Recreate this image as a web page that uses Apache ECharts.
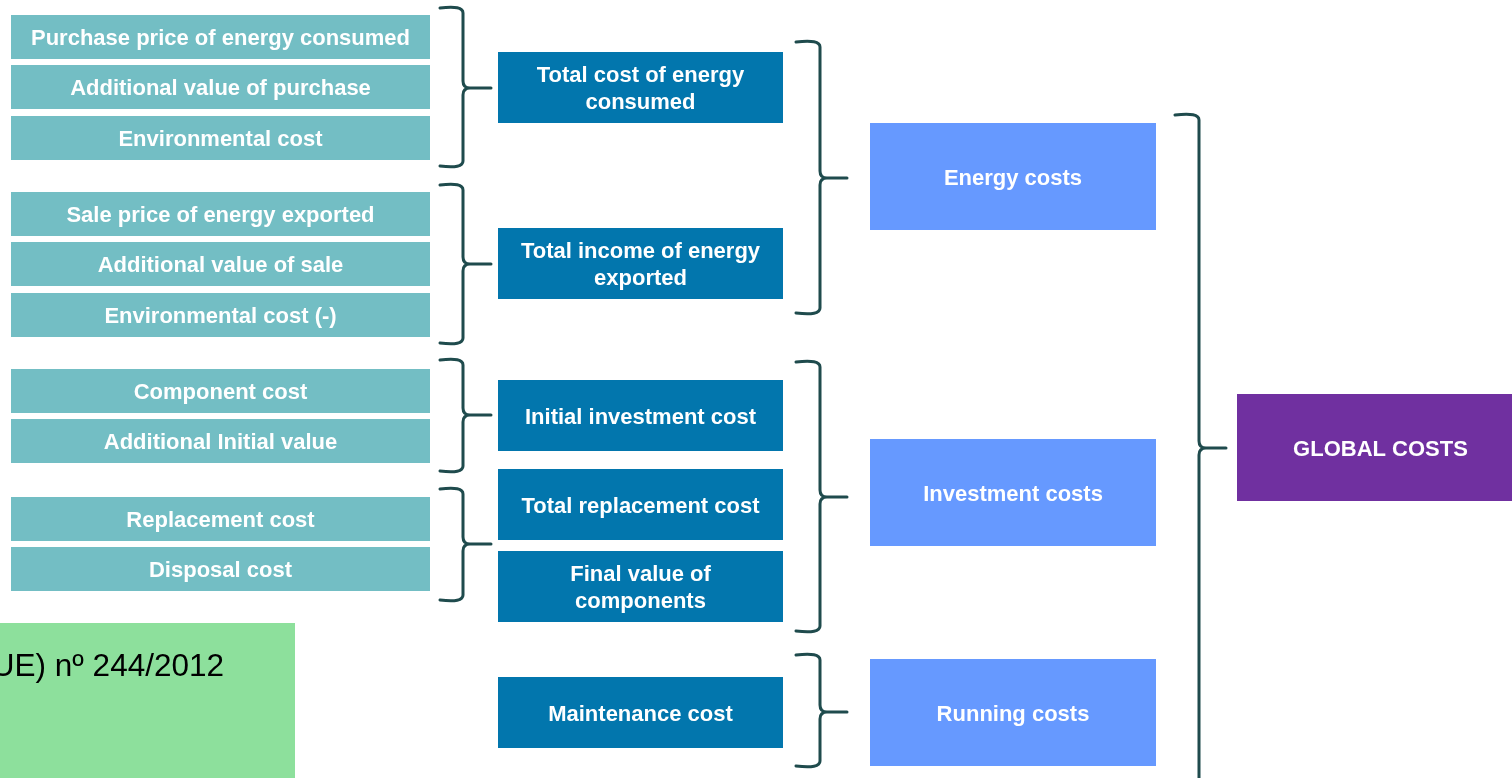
<!DOCTYPE html>
<html>
<head>
<meta charset="utf-8">
<title>Global costs</title>
<script src="https://cdn.jsdelivr.net/npm/echarts@6/dist/echarts.min.js"></script>
<style>
  html, body { margin: 0; padding: 0; background: #fff; }
  #chart { width: 1512px; height: 778px; }
</style>
</head>
<body>
<div id="chart"></div>
<script>
// labels, column by column
const inputLabels = [
    'Purchase price of energy consumed',
    'Additional value of purchase',
    'Environmental cost',
    'Sale price of energy exported',
    'Additional value of sale',
    'Environmental cost (-)',
    'Component cost',
    'Additional Initial value',
    'Replacement cost',
    'Disposal cost'
];
const subtotalLabels = [
    'Total cost of energy\nconsumed',
    'Total income of energy\nexported',
    'Initial investment cost',
    'Total replacement cost',
    'Final value of\ncomponents',
    'Maintenance cost'
];
const categoryLabels = ['Energy costs', 'Investment costs', 'Running costs'];
const totalLabels = ['GLOBAL COSTS'];
const noteLabels = ['(UE) nº 244/2012'];

// layout (pixel units of the hidden axes)
const inputCol = { x0: 11, x1: 430, h: 44, tops: [15, 65, 116, 192, 242, 293, 369, 419, 497, 547] };
const subtotalCol = { x0: 498, x1: 783, h: 71, tops: [52, 228, 380, 469, 551, 677] };
const categoryCol = { x0: 870, x1: 1156, h: 107, tops: [123, 439, 659] };
const totalCol = { x0: 1237, x1: 1524, h: 107, tops: [394] };
const noteBox = { x0: -20, x1: 295, y0: 623, y1: 800, textX: 224, textY: 667 };

// brackets: [top, bottom, tip]
const bracketCols = [
    { arm: 440, vert: 463, tip: 491, spans: [[6, 168, 88], [183, 345, 264], [358, 473, 415], [487, 602, 544]] },
    { arm: 796, vert: 820, tip: 847, spans: [[40, 315, 178], [360, 633, 497], [653, 768, 712]] },
    { arm: 1175, vert: 1199, tip: 1226, spans: [[113, 800, 448]] }
];

const FONT = '"Liberation Sans", Arial, sans-serif';
const TEXT_SHIFT = 2;

function boxData(col) {
    return col.tops.map(t => [col.x0, t, col.x1, t + col.h]);
}

function boxRender(labels, fill, textColor, font) {
    return function (params, api) {
        const p0 = api.coord([api.value(0), api.value(1)]);
        const p1 = api.coord([api.value(2), api.value(3)]);
        return {
            type: 'group',
            children: [
                {
                    type: 'rect',
                    shape: { x: p0[0], y: p0[1], width: p1[0] - p0[0], height: p1[1] - p0[1] },
                    style: { fill: fill }
                },
                {
                    type: 'text',
                    x: (p0[0] + p1[0]) / 2,
                    y: (p0[1] + p1[1]) / 2 + TEXT_SHIFT,
                    style: {
                        text: labels[params.dataIndex],
                        align: 'center',
                        verticalAlign: 'middle',
                        fill: textColor,
                        font: font,
                        lineHeight: 27
                    }
                }
            ]
        };
    };
}

function bracketData() {
    const out = [];
    bracketCols.forEach(c => {
        c.spans.forEach(s => out.push([c.arm, c.vert, c.tip, s[0], s[1], s[2]]));
    });
    return out;
}

function bracketRender(params, api) {
    const xa = api.coord([api.value(0), 0])[0];
    const xv = api.coord([api.value(1), 0])[0];
    const xt = api.coord([api.value(2), 0])[0];
    const top = api.coord([0, api.value(3)])[1];
    const bot = api.coord([0, api.value(4)])[1];
    const mid = api.coord([0, api.value(5)])[1];
    const r = 7;
    const d = [
        'M', xa, top + 2,
        'Q', xv, top - 1, xv, top + r,
        'L', xv, mid - r,
        'Q', xv, mid, xv + r, mid,
        'L', xt, mid,
        'L', xv + r, mid,
        'Q', xv, mid, xv, mid + r,
        'L', xv, bot - r,
        'Q', xv, bot + 1, xa, bot - 2
    ].join(' ');
    return {
        type: 'path',
        shape: { pathData: d },
        style: { fill: null, stroke: '#1F4B4D', lineWidth: 3, lineJoin: 'round', lineCap: 'round' }
    };
}

const chart = echarts.init(document.getElementById('chart'));

const option = {
    animation: false,
    backgroundColor: '#ffffff',
    grid: { left: 0, right: 0, top: 0, bottom: 0 },
    xAxis: { type: 'value', min: 0, max: 1512, show: false },
    yAxis: { type: 'value', min: 0, max: 778, inverse: true, show: false },
    series: [
        {
            name: 'note',
            type: 'custom',
            data: [[noteBox.x0, noteBox.y0, noteBox.x1, noteBox.y1]],
            renderItem: function (params, api) {
                const p0 = api.coord([api.value(0), api.value(1)]);
                const p1 = api.coord([api.value(2), api.value(3)]);
                const pt = api.coord([noteBox.textX, noteBox.textY]);
                return {
                    type: 'group',
                    children: [
                        { type: 'rect', shape: { x: p0[0], y: p0[1], width: p1[0] - p0[0], height: p1[1] - p0[1] }, style: { fill: '#8DE09C' } },
                        {
                            type: 'text', x: pt[0], y: pt[1],
                            style: { text: noteLabels[0], align: 'right', verticalAlign: 'middle', fill: '#000', font: '31.5px ' + FONT }
                        }
                    ]
                };
            }
        },
        {
            name: 'inputs',
            type: 'custom',
            data: boxData(inputCol),
            renderItem: boxRender(inputLabels, '#73BEC4', '#fff', 'bold 22px ' + FONT)
        },
        {
            name: 'subtotals',
            type: 'custom',
            data: boxData(subtotalCol),
            renderItem: boxRender(subtotalLabels, '#0276AD', '#fff', 'bold 22px ' + FONT)
        },
        {
            name: 'categories',
            type: 'custom',
            data: boxData(categoryCol),
            renderItem: boxRender(categoryLabels, '#6699FF', '#fff', 'bold 22px ' + FONT)
        },
        {
            name: 'total',
            type: 'custom',
            data: boxData(totalCol),
            renderItem: boxRender(totalLabels, '#7030A0', '#fff', 'bold 22px ' + FONT)
        },
        {
            name: 'brackets',
            type: 'custom',
            data: bracketData(),
            renderItem: bracketRender
        }
    ]
};

chart.setOption(option);

window.addEventListener('resize', () => chart.resize());
</script>
</body>
</html>
